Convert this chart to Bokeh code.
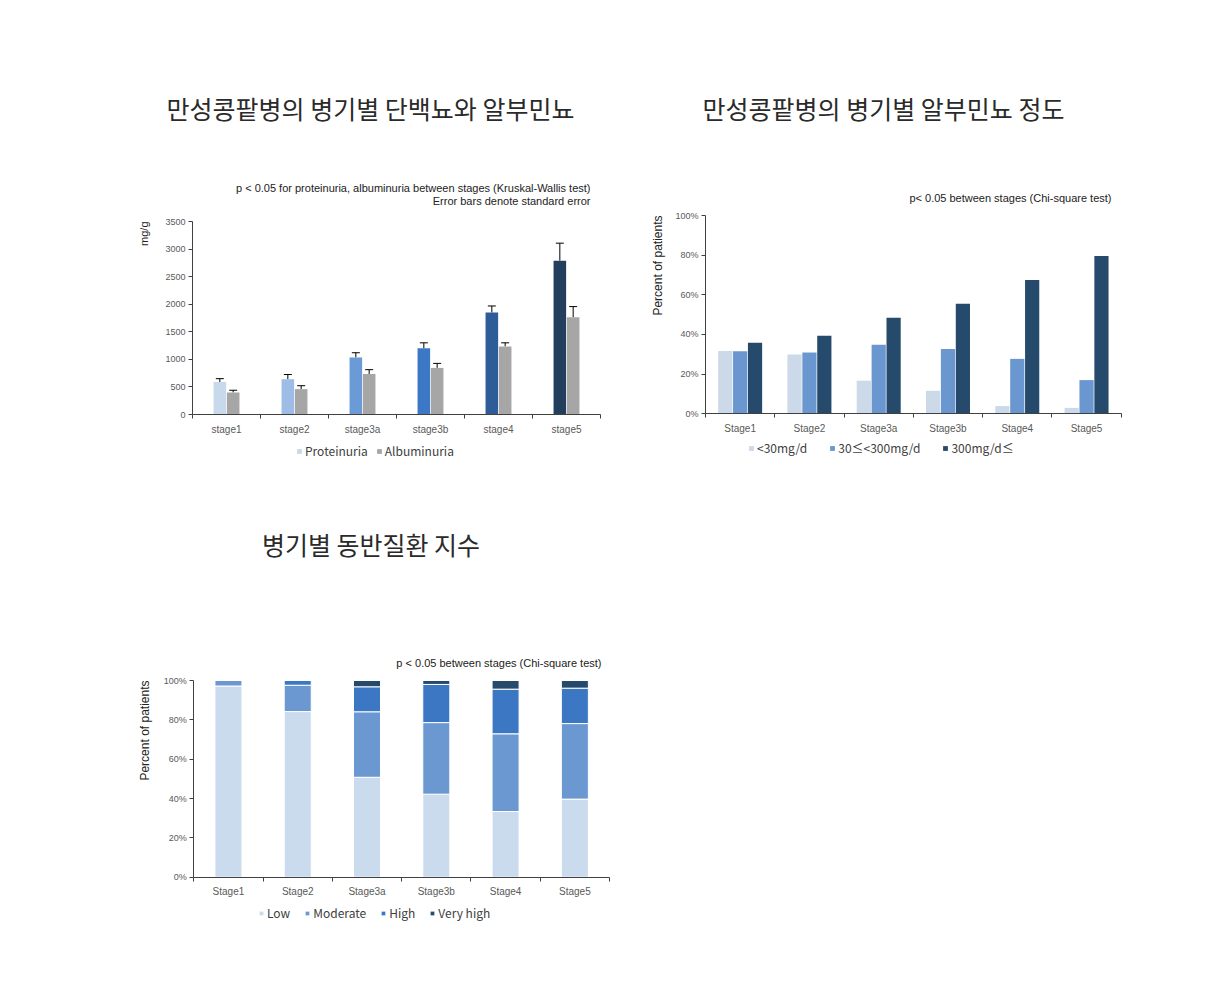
import math
import numpy as np
from bokeh.plotting import figure
from bokeh.models import (ColumnDataSource, Legend, LegendItem, FixedTicker, Label, LinearAxis,
                          Range1d, Whisker, TeeHead, PrintfTickFormatter)
from bokeh.layouts import row, column
from bokeh.embed import file_html
from bokeh.resources import INLINE

# ---------------- data ----------------
stages_lower = ["stage1", "stage2", "stage3a", "stage3b", "stage4", "stage5"]
stages = ["Stage1", "Stage2", "Stage3a", "Stage3b", "Stage4", "Stage5"]

proteinuria = [590, 640, 1035, 1200, 1850, 2790]
proteinuria_se = [60, 85, 85, 100, 118, 317]
albuminuria = [400, 460, 735, 845, 1235, 1765]
albuminuria_se = [40, 62, 78, 82, 65, 192]
y1_ticks = [0, 500, 1000, 1500, 2000, 2500, 3000, 3500]

alb_lt30 = [31.7, 29.9, 16.7, 11.6, 3.9, 3.0]
alb_30_300 = [31.6, 30.9, 34.8, 32.7, 27.7, 17.0]
alb_ge300 = [35.8, 39.3, 48.4, 55.5, 67.5, 79.6]
alb_labels = ["<30mg/d", "30\u2264<300mg/d", "300mg/d\u2264"]

cci_low = [97.2, 84.2, 50.8, 42.2, 33.4, 39.7]
cci_moderate = [2.8, 13.4, 33.3, 36.4, 39.5, 38.4]
cci_high = [0.0, 2.4, 12.7, 19.4, 22.7, 18.0]
cci_very_high = [0.0, 0.0, 3.2, 2.0, 4.4, 3.9]
cci_labels = ["Low", "Moderate", "High", "Very high"]
pct_ticks = [0, 20, 40, 60, 80, 100]

title1 = "만성콩팥병의 병기별 단백뇨와 알부민뇨"
title2 = "만성콩팥병의 병기별 알부민뇨 정도"
title3 = "병기별 동반질환 지수"
note1a = "p < 0.05 for proteinuria, albuminuria between stages (Kruskal-Wallis test)"
note1b = "Error bars denote standard error"
note2 = "p< 0.05 between stages (Chi-square test)"
note3 = "p < 0.05 between stages (Chi-square test)"
ylabel1 = "mg/g"
ylabel23 = "Percent of patients"

# ---------------- styles ----------------
prot_colors = ["#c8d9ec", "#9dbde6", "#6b9bd6", "#3c78c6", "#2d5c98", "#243f5e"]
alb_color = "#a6a6a6"
alb3_colors = ["#cbd9e8", "#6b97d0", "#264a6b"]
cci_colors = ["#c9dbed", "#6b98d0", "#3b77c3", "#254a6b"]

LAT = "Liberation Sans"
KR = "Noto Sans CJK KR"
AX_COL = "#404040"
TICK_COL = "#595959"


class Chart:
    """A figure whose frame fills its whole box; axes are drawn inside it."""

    def __init__(self, ox, oy, w, h, left, right, top, bottom, n_cat, y_max):
        self.ox, self.oy, self.w, self.h = ox, oy, w, h
        sx = (right - left) / n_cat
        sy = (bottom - top) / y_max
        x_start = -0.5 - (left - ox) / sx
        x_end = (n_cat - 0.5) + (ox + w - right) / sx
        y_start = -(oy + h - bottom) / sy
        y_end = y_max + (top - oy) / sy
        p = figure(width=w, height=h, x_range=Range1d(x_start, x_end), y_range=Range1d(y_start, y_end),
                   x_axis_location=None, y_axis_location=None, min_border=0,
                   output_backend="svg", toolbar_location=None, tools="")
        p.outline_line_color = None
        p.grid.visible = False
        p.background_fill_color = "white"
        p.border_fill_color = "white"
        self.p = p
        self.n = n_cat
        self.y_max = y_max

    def sx(self, px):
        return px - self.ox

    def sy(self, py):
        return self.oy + self.h - py

    def axes(self, labels, yticks, yfmt=None):
        n = self.n
        centers = list(range(n))
        bounds = [i - 0.5 for i in range(n + 1)]
        xa = LinearAxis(fixed_location=0, bounds=(-0.5, n - 0.5),
                        ticker=FixedTicker(ticks=centers, minor_ticks=bounds))
        xa.major_label_overrides = {c: lab for c, lab in zip(centers, labels)}
        xa.major_tick_in = 0
        xa.major_tick_out = 0
        xa.minor_tick_in = 0
        xa.minor_tick_out = 4
        xa.major_label_standoff = 5
        xa.major_label_text_font_size = "10px"
        ya = LinearAxis(fixed_location=-0.5, bounds=(0, self.y_max),
                        ticker=FixedTicker(ticks=yticks, minor_ticks=[]))
        ya.major_tick_in = 0
        ya.major_tick_out = 4
        ya.minor_tick_in = 0
        ya.minor_tick_out = 0
        ya.major_label_standoff = 3
        ya.major_label_text_font_size = "9px"
        if yfmt is not None:
            ya.formatter = PrintfTickFormatter(format=yfmt)
        for ax in (xa, ya):
            ax.axis_line_color = AX_COL
            ax.major_tick_line_color = AX_COL
            ax.minor_tick_line_color = AX_COL
            ax.major_label_text_font = LAT
            ax.major_label_text_color = TICK_COL
        self.p.add_layout(xa, "below")
        self.p.add_layout(ya, "left")

    def text(self, px, py, text, size, font=LAT, align="right", angle=0.0, color="#222222",
             baseline="middle", style="normal"):
        self.p.add_layout(Label(x=self.sx(px), y=self.sy(py), x_units="screen", y_units="screen",
                                text=text, text_font=font, text_font_size=size, text_color=color,
                                text_align=align, text_baseline=baseline, angle=angle,
                                text_font_style=style))

    def legend(self, items, px_left, py_center, spacing):
        lg = Legend(items=items, orientation="horizontal",
                    location=(self.sx(px_left), self.sy(py_center + 7)))
        lg.glyph_width = 6
        lg.glyph_height = 6
        lg.label_height = 14
        lg.label_standoff = 3
        lg.label_text_font = KR
        lg.label_text_font_size = "12px"
        lg.label_text_color = "#404040"
        lg.spacing = spacing
        lg.padding = 0
        lg.margin = 0
        lg.border_line_color = None
        lg.background_fill_alpha = 0
        self.p.add_layout(lg)


idx = np.arange(len(stages))

# ---------------- chart 1 ----------------
c1 = Chart(0, 0, 604, 495, 192, 600, 221, 414, len(stages_lower), 3500)
c1.axes(stages_lower, y1_ticks)
p1 = c1.p
dodge1 = 0.098
bw1 = 0.185
src1 = ColumnDataSource(dict(
    xp=idx - dodge1, xa=idx + dodge1,
    prot=proteinuria, alb=albuminuria,
    prot_hi=np.array(proteinuria) + np.array(proteinuria_se),
    alb_hi=np.array(albuminuria) + np.array(albuminuria_se),
    pcol=prot_colors,
))
r_prot = p1.vbar(x="xp", top="prot", bottom=0, width=bw1, fill_color="pcol", line_color=None, source=src1)
r_alb = p1.vbar(x="xa", top="alb", bottom=0, width=bw1, fill_color=alb_color, line_color=None, source=src1)
for base, lo, hi in (("xp", "prot", "prot_hi"), ("xa", "alb", "alb_hi")):
    p1.add_layout(Whisker(source=src1, base=base, lower=lo, upper=hi, dimension="height",
                          line_color="black", line_width=1, lower_head=None,
                          upper_head=TeeHead(size=8, line_color="black", line_width=1)))
c1.legend([LegendItem(label="Proteinuria", renderers=[r_prot], index=0),
           LegendItem(label="Albuminuria", renderers=[r_alb])], 296, 452, 8)
c1.text(370, 107, title1, "25px", font=KR, align="center", color="#2a2a2a")
c1.text(590, 187, note1a, "11px")
c1.text(590, 200, note1b, "11px")
c1.text(143, 221, ylabel1, "11px", align="right", angle=math.pi / 2)

# ---------------- chart 2 ----------------
c2 = Chart(604, 0, 604, 495, 705, 1120.7, 215, 413.3, len(stages), 100)
c2.axes(stages, pct_ticks, "%d%%")
p2 = c2.p
dodge2 = 0.215
bw2 = 0.205
src2 = ColumnDataSource(dict(x0=idx - dodge2, x1=idx, x2=idx + dodge2,
                             a=alb_lt30, b=alb_30_300, c=alb_ge300))
r2 = []
for xcol, ycol, col in zip(["x0", "x1", "x2"], ["a", "b", "c"], alb3_colors):
    r2.append(p2.vbar(x=xcol, top=ycol, bottom=0, width=bw2, fill_color=col, line_color=None, source=src2))
c2.legend([LegendItem(label=lab, renderers=[r]) for lab, r in zip(alb_labels, r2)], 748, 449, 22)
c2.text(883, 107, title2, "25px", font=KR, align="center", color="#2a2a2a")
c2.text(1111, 197, note2, "11px")
c2.text(657, 215, ylabel23, "12px", align="right", angle=math.pi / 2)

# ---------------- chart 3 ----------------
c3 = Chart(0, 495, 620, 495, 193.3, 609, 680, 876.7, len(stages), 100)
c3.axes(stages, pct_ticks, "%d%%")
p3 = c3.p
src3 = ColumnDataSource(dict(x=idx, Low=cci_low, Moderate=cci_moderate, High=cci_high,
                             VeryHigh=cci_very_high))
r3 = p3.vbar_stack(["Low", "Moderate", "High", "VeryHigh"], x="x", width=0.39,
                   color=cci_colors, line_color="white", line_width=1, source=src3)
c3.legend([LegendItem(label=lab, renderers=[r]) for lab, r in zip(cci_labels, r3)], 258, 914, 14)
c3.text(370.5, 543, title3, "25px", font=KR, align="center", color="#2a2a2a")
c3.text(601, 662, note3, "11px")
c3.text(144, 680, ylabel23, "12px", align="right", angle=math.pi / 2)

layout = column(row(p1, p2), p3)
open("out.html", "w").write(file_html(layout, INLINE))
